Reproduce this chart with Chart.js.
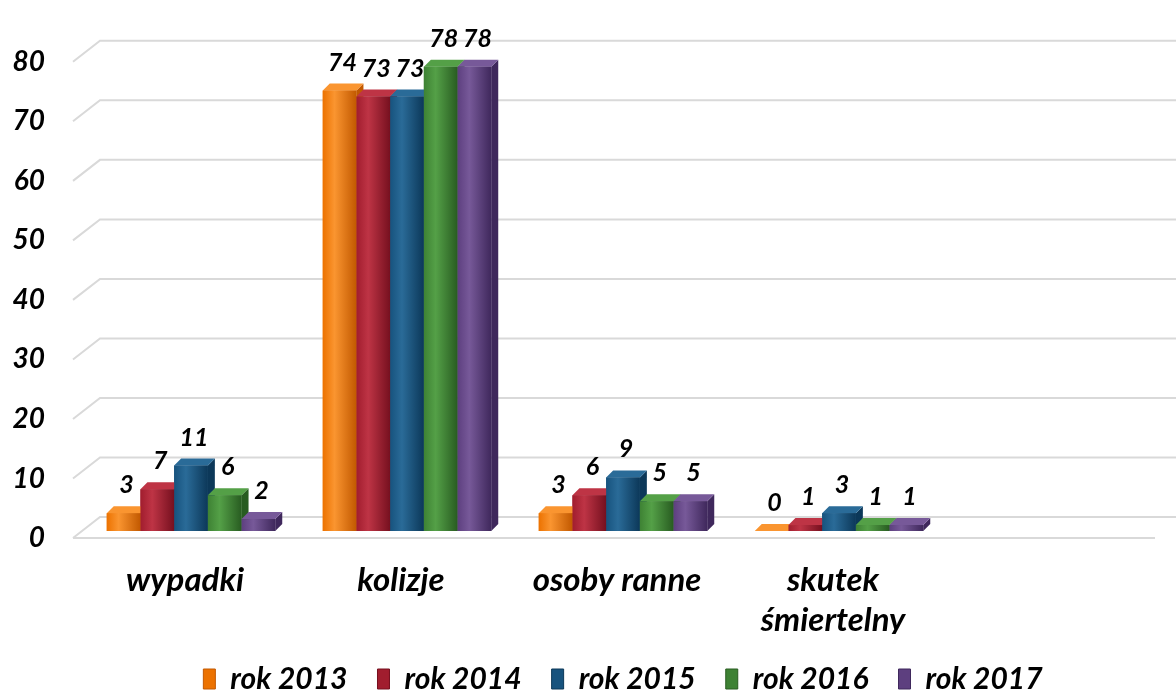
<!DOCTYPE html>
<html>
<head>
<meta charset="utf-8">
<script src="https://cdn.jsdelivr.net/npm/chart.js@4.4.1/dist/chart.umd.min.js"></script>
<style>
  html, body { margin: 0; padding: 0; background: #fff; }
  #wrap { width: 1176px; height: 694px; }
</style>
</head>
<body>
<div id="wrap"><canvas id="chart"></canvas></div>
<script>
// data
const categories = ['wypadki', 'kolizje', 'osoby ranne', ['skutek', 'śmiertelny'], ''];
const years = ['rok 2013', 'rok 2014', 'rok 2015', 'rok 2016', 'rok 2017'];
const values2013 = [3, 74, 3, 0];
const values2014 = [7, 73, 6, 1];
const values2015 = [11, 73, 9, 3];
const values2016 = [6, 78, 5, 1];
const values2017 = [2, 78, 5, 1];
const yMin = 0, yMax = 80, yStep = 10;

// colours: base, light, dark
const palette = [
    ['#EC7200', '#FA9530', '#C25900'],
    ['#A11D2E', '#BE3445', '#76101F'],
    ['#17537E', '#2A6B98', '#0C3859'],
    ['#3E8234', '#54A047', '#285C21'],
    ['#5D3F7F', '#775999', '#3F285C']
];

const font = (size) => ({ family: 'Lato', size: size, weight: 'bold', style: 'italic' });
const DEPTH = 7;

// back-wall grid with perspective
const grid3d = {
    id: 'grid3d',
    beforeDatasetsDraw(chart) {
        const { ctx, chartArea, scales: { y } } = chart;
        ctx.save();
        ctx.strokeStyle = '#D9D9D9';
        ctx.lineWidth = 2;
        y.ticks.forEach(t => {
            const py = y.getPixelForValue(t.value);
            ctx.beginPath();
            ctx.moveTo(chartArea.left - 10, py + 7);
            ctx.lineTo(chartArea.left + 17, py - 14);
            ctx.lineTo(chart.width, py - 14);
            ctx.stroke();
        });
        const p0 = y.getPixelForValue(0) + 7;
        ctx.beginPath();
        ctx.moveTo(chartArea.left - 10, p0);
        ctx.lineTo(chartArea.right - 8, p0);
        ctx.stroke();
        ctx.restore();
    }
};

// 3d-ish bars + value labels
const bars3d = {
    id: 'bars3d',
    afterDatasetsDraw(chart) {
        const ctx = chart.ctx;
        ctx.save();
        chart.data.datasets.forEach((ds, i) => {
            const [base, light, dark] = palette[i];
            chart.getDatasetMeta(i).data.forEach(bar => {
                const { x, y, base: b, width } = bar.getProps(['x', 'y', 'base', 'width'], true);
                const l = x - width / 2, r = x + width / 2, d = DEPTH;
                // side
                ctx.fillStyle = dark;
                ctx.beginPath();
                ctx.moveTo(r, y); ctx.lineTo(r + d, y - d); ctx.lineTo(r + d, b - d); ctx.lineTo(r, b);
                ctx.closePath(); ctx.fill();
                // top
                ctx.fillStyle = light;
                ctx.beginPath();
                ctx.moveTo(l, y); ctx.lineTo(l + d, y - d); ctx.lineTo(r + d, y - d); ctx.lineTo(r, y);
                ctx.closePath(); ctx.fill();
                // front
                if (b - y > 0) {
                    const g = ctx.createLinearGradient(l, 0, r, 0);
                    g.addColorStop(0, base);
                    g.addColorStop(0.35, light);
                    g.addColorStop(1, dark);
                    ctx.fillStyle = g;
                    ctx.fillRect(l, y, width, b - y);
                }
            });
        });
        // labels
        ctx.fillStyle = '#000';
        ctx.font = 'italic bold 25px Lato';
        ctx.textAlign = 'center';
        ctx.textBaseline = 'middle';
        chart.data.datasets.forEach((ds, i) => {
            chart.getDatasetMeta(i).data.forEach((bar, j) => {
                const { x, y } = bar.getProps(['x', 'y'], true);
                ctx.fillText(String(ds.data[j]), x + 3, y - 28);
            });
        });
        ctx.restore();
    }
};

const datasets = [values2013, values2014, values2015, values2016, values2017].map((vals, i) => ({
    label: years[i],
    data: vals,
    backgroundColor: palette[i][0],
    borderWidth: 0,
    categoryPercentage: 0.78,
    barPercentage: 1.0
}));

new Chart(document.getElementById('chart'), {
    type: 'bar',
    data: { labels: categories, datasets: datasets },
    options: {
        responsive: true,
        maintainAspectRatio: false,
        animation: false,
        layout: { padding: { top: 53, right: 13, bottom: -10, left: 0 } },
        plugins: {
            tooltip: { enabled: false },
            legend: {
                position: 'bottom',
                fullSize: false,
                labels: {
                    font: font(30),
                    color: '#000',
                    boxWidth: 12,
                    boxHeight: 20,
                    padding: 30,
                    generateLabels(chart) {
                        return chart.data.datasets.map((ds, i) => ({
                            text: ds.label,
                            fillStyle: palette[i][0],
                            strokeStyle: palette[i][2],
                            lineWidth: 1,
                            datasetIndex: i,
                            fontColor: '#000'
                        }));
                    }
                }
            }
        },
        scales: {
            x: {
                grid: { display: false, drawTicks: false },
                border: { display: false },
                ticks: { font: font(33), color: '#000', padding: 30, labelOffset: -6, maxRotation: 0, autoSkip: false },
                afterFit(scale) { scale.height = 103; }
            },
            y: {
                min: yMin, max: yMax,
                grid: { display: false, drawTicks: false },
                border: { display: false },
                ticks: { stepSize: yStep, font: font(28), color: '#000', padding: 38, labelOffset: 7 },
                afterFit(scale) { scale.width = 83; }
            }
        }
    },
    plugins: [grid3d, bars3d]
});
</script>
</body>
</html>
